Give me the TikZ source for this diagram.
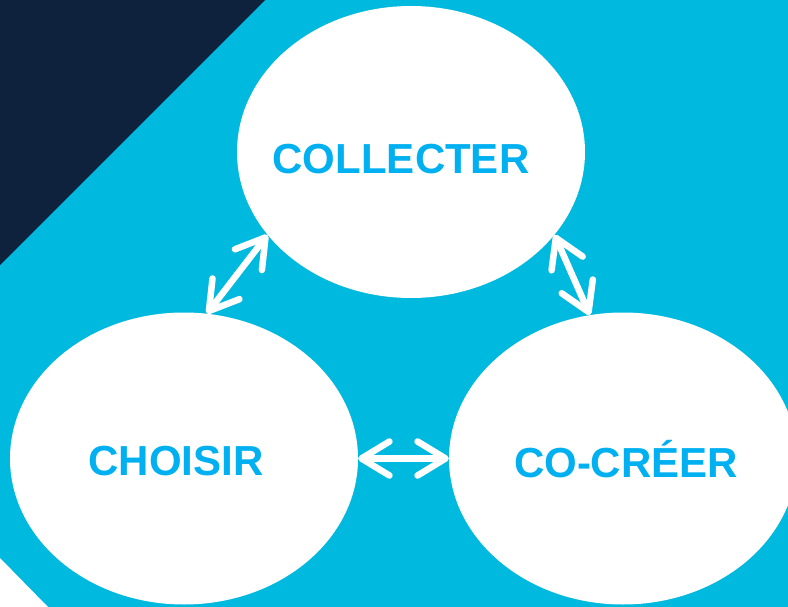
\documentclass[tikz,border=0pt]{standalone}
\usepackage{fontspec}
\setmainfont{Liberation Sans}
\usetikzlibrary{shapes.geometric,arrows.meta}
\definecolor{skyback}{HTML}{00B9DF}
\definecolor{navycorner}{HTML}{0E213D}
\definecolor{wordblue}{HTML}{00B0F0}
\begin{document}
\begin{tikzpicture}[x = 1pt, y = -1pt,
        bubble/.style={ellipse, fill=white, inner sep=0pt, minimum width=348pt, minimum height=292pt},
        word/.style={text=wordblue, font=\fontsize{42}{42}\selectfont\bfseries},
        link/.style={{Straight Barb[length=28pt, width=34pt, round]}-{Straight Barb[length=28pt, width=34pt, round]},
            white, line width=6.5pt, line cap=round}
]
    \useasboundingbox (0,0) rectangle (788,607);
    \fill[skyback] (0,0) rectangle (788,607);
    \fill[navycorner] (0,0) -- (265,0) -- (0,265) -- cycle;
    \fill[white] (0,558) -- (48,607) -- (0,607) -- cycle;

    \node[bubble] (collect) at (411,152) {};
    \node[bubble] (choose) at (184,458.5) {};
    \node[bubble] (cocreate) at (623,458.5) {};
    \node[word] (collectlabel) at (401,159) {COLLECTER};
    \node[word] (chooselabel) at (176,461) {CHOISIR};
    \node[word] (cocreatelabel) at (626,459) {CO-CRÉER};

    \draw[link] (choose.81) -- (collect.210);
    \draw[link] (collect.330) -- (cocreate.103);
    \draw[link] (choose.0) -- (cocreate.180);

\end{tikzpicture}
\end{document}
